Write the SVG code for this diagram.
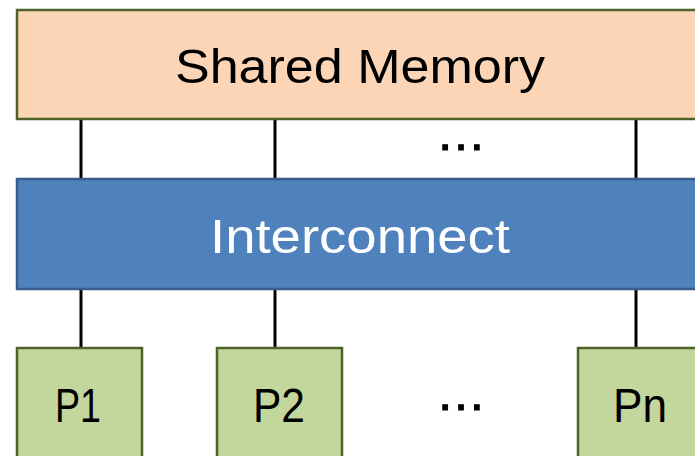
<svg xmlns="http://www.w3.org/2000/svg" width="695" height="456" viewBox="0 0 695 456">
<style>
.mem{fill:#fbd5b5;stroke:#4f6228;stroke-width:2.5}
.ic{fill:#4f81bd;stroke:#385d8a;stroke-width:2.5}
.p{fill:#c3d69b;stroke:#4f6228;stroke-width:2.5}
.t{font-family:"Liberation Sans",Arial,sans-serif;font-size:48px;text-anchor:middle}
.conn line{stroke:#000;stroke-width:3}
.dots{font-family:"Liberation Sans",Arial,sans-serif;font-size:50px;text-anchor:middle;fill:#000;stroke:#000;stroke-width:1}
</style>
<rect width="695" height="456" fill="#fff"/>
<g class="conn" id="connectors">
<line x1="81" y1="119" x2="81" y2="179"/>
<line x1="275" y1="119" x2="275" y2="179"/>
<line x1="636" y1="119" x2="636" y2="179"/>
<line x1="81" y1="289" x2="81" y2="348"/>
<line x1="275" y1="289" x2="275" y2="348"/>
<line x1="636" y1="289" x2="636" y2="348"/>
</g>
<g id="shared-memory">
<rect class="mem" x="17" y="10" width="690" height="109"/>
<text class="t" x="360" y="83" fill="#000" textLength="370" lengthAdjust="spacingAndGlyphs">Shared Memory</text>
</g>
<g id="interconnect">
<rect class="ic" x="17" y="179" width="690" height="110"/>
<text class="t" x="360" y="253" fill="#fff" textLength="300" lengthAdjust="spacingAndGlyphs">Interconnect</text>
</g>
<g id="p1">
<rect class="p" x="17" y="348" width="125" height="120"/>
<text class="t" x="78" y="422" fill="#000" textLength="46" lengthAdjust="spacingAndGlyphs">P1</text>
</g>
<g id="p2">
<rect class="p" x="217" y="348" width="125" height="120"/>
<text class="t" x="279" y="422" fill="#000" textLength="52" lengthAdjust="spacingAndGlyphs">P2</text>
</g>
<g id="pn">
<rect class="p" x="578" y="348" width="125" height="120"/>
<text class="t" x="640" y="422" fill="#000" textLength="54" lengthAdjust="spacingAndGlyphs">Pn</text>
</g>
<text class="dots" x="461" y="150">…</text>
<text class="dots" x="461" y="410">…</text>
</svg>
